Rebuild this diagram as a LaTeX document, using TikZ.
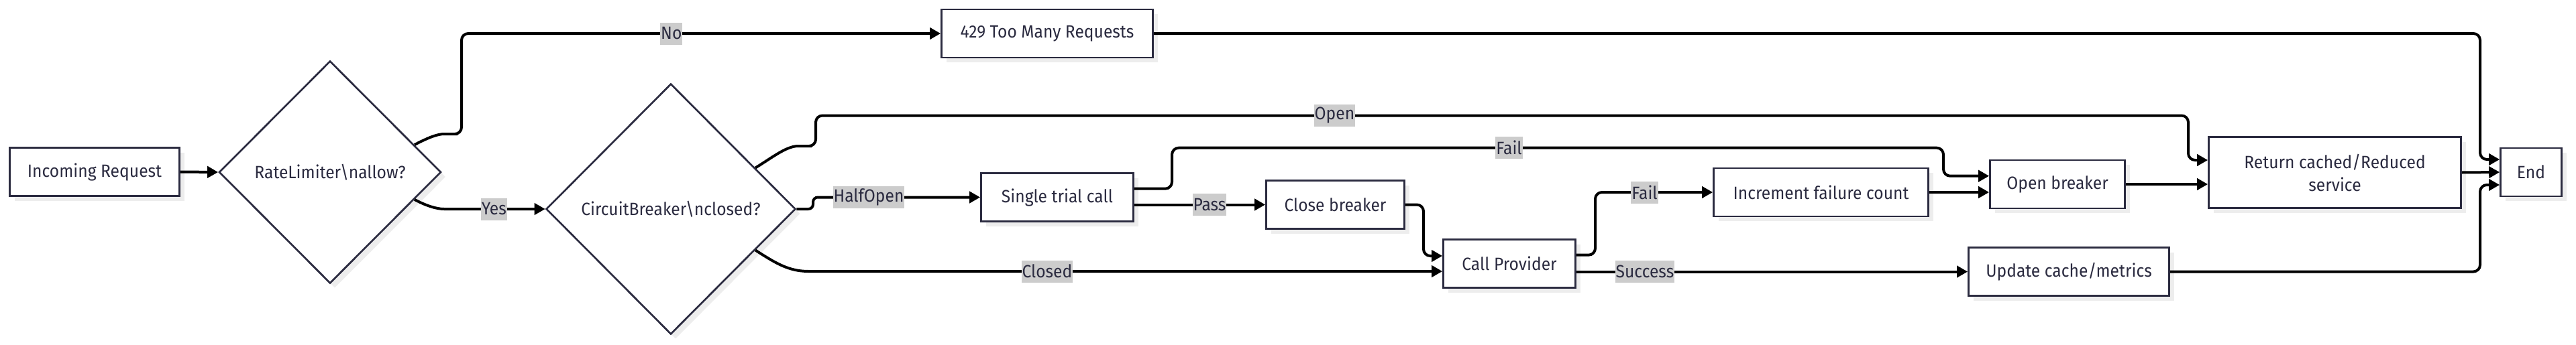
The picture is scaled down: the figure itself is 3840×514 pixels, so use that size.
\documentclass[tikz,border=0pt]{standalone}
\usepackage{fontspec}
\setmainfont{Fira Sans}[FakeStretch=0.93]
\usetikzlibrary{shapes.geometric,arrows.meta,shadows}
\definecolor{ink}{HTML}{2B2B40}
\definecolor{lblbg}{HTML}{CCCCCC}
\definecolor{shade}{HTML}{EDEDED}
\begin{document}
\begin{tikzpicture}[x=1pt,y=-1pt,
  txt/.style={font=\fontsize{26.5}{34}\selectfont},
  box/.style={txt, draw=ink, line width=2.7pt, fill=white, text=ink, minimum height=72pt, inner sep=0pt,
    drop shadow={shadow xshift=7pt, shadow yshift=-7pt, fill=shade, opacity=1}},
  dec/.style={txt, diamond, draw=ink, line width=2.7pt, fill=white, text=ink, inner sep=0pt,
    drop shadow={shadow xshift=7pt, shadow yshift=-7pt, fill=shade, opacity=1}},
  edge/.style={line width=4pt, black, rounded corners=10pt},
  arr/.style={-{Triangle[length=16pt,width=17pt]}},
  lbl/.style={txt, fill=lblbg, text=ink, inner xsep=1pt, inner ysep=0pt, minimum height=33pt, rounded corners=0pt}
]
\fill[white] (0,0) rectangle (3840,514);
\useasboundingbox (0,0) rectangle (3840,514);

\node[box, minimum width=253pt] (inc) at (141,256.5) {Incoming Request};
\node[dec, minimum width=331pt, minimum height=332pt] (rl) at (492,257) {RateLimiter\textbackslash nallow?};
\node[dec, minimum width=372pt, minimum height=374pt] (cb) at (1000,312) {CircuitBreaker\textbackslash nclosed?};
\node[box, minimum width=315pt] (too) at (1561,50) {429 Too Many Requests};
\node[box, minimum width=227pt] (trial) at (1576,294.5) {Single trial call};
\node[box, minimum width=206pt] (close) at (1990.5,305.5) {Close breaker};
\node[box, minimum width=197pt] (call) at (2250,393.5) {Call Provider};
\node[box, minimum width=320pt] (incf) at (2714.5,287) {Increment failure count};
\node[box, minimum width=201pt] (open) at (3067,275) {Open breaker};
\node[box, minimum width=299pt] (upd) at (3084,405.5) {Update cache/metrics};
\node[box, minimum width=376pt, minimum height=106pt, align=center] (ret) at (3480.5,257.5) {Return cached/Reduced\\service};
\node[box, minimum width=91pt] (end) at (3773,257) {End};

\draw[edge,arr] (inc.east) -- (rl.west);
\draw[edge,arr] (rl.18) .. controls (637,206) and (652,200) .. (672,200) -- (688,200) -- (688,50) -- node[lbl,pos=0.438]{No} (too.west);
\draw[edge,arr] (rl.-18) .. controls (637,308) and (652,312) .. (672,312) -- node[lbl,pos=0.457]{Yes} (cb.west);
\draw[edge,arr] (cb.26.5) .. controls (1150,236) and (1172,218) .. (1200,218) -- (1216,218) -- (1216,172.5) -- node[lbl,pos=0.378]{Open} (3262,172.5) -- (3262,239) -- ([yshift=18.5pt]ret.west);
\draw[edge,arr,rounded corners=7pt] (cb.east) -- (1212,312) -- (1212,294.5) -- node[lbl,pos=0.333]{HalfOpen} (trial.west);
\draw[edge,arr] (cb.-26.5) .. controls (1155,392) and (1175,405) .. (1215,405) -- node[lbl,pos=0.37]{Closed} ([yshift=-11.5pt]call.west);
\draw[edge,arr] ([yshift=12.8pt]trial.east) -- (1747,281.7) -- (1747,220.7) -- node[lbl,pos=0.437]{Fail} (2897,220.7) -- (2897,262.7) -- ([yshift=12.3pt]open.west);
\draw[edge,arr] ([yshift=-11pt]trial.east) -- node[lbl,pos=0.574]{Pass} (close.west);
\draw[edge,arr] (close.east) -- (2122,305.5) -- (2122,382) -- ([yshift=11.5pt]call.west);
\draw[edge,arr] ([yshift=12.8pt]call.east) -- (2378,380.7) -- (2378,287) -- node[lbl,pos=0.42]{Fail} (incf.west);
\draw[edge,arr] ([yshift=-12pt]call.east) -- node[lbl,pos=0.175]{Success} (upd.west);
\draw[edge,arr] (incf.east) -- ([yshift=-12pt]open.west);
\draw[edge,arr] (open.east) -- ([yshift=-17.5pt]ret.west);
\draw[edge,arr] (too.east) -- (3697,50) -- (3697,238) -- ([yshift=19pt]end.west);
\draw[edge,arr] (ret.east) -- (end.west);
\draw[edge,arr] (upd.east) -- (3697,405.5) -- (3697,276) -- ([yshift=-19pt]end.west);
\end{tikzpicture}
\end{document}
